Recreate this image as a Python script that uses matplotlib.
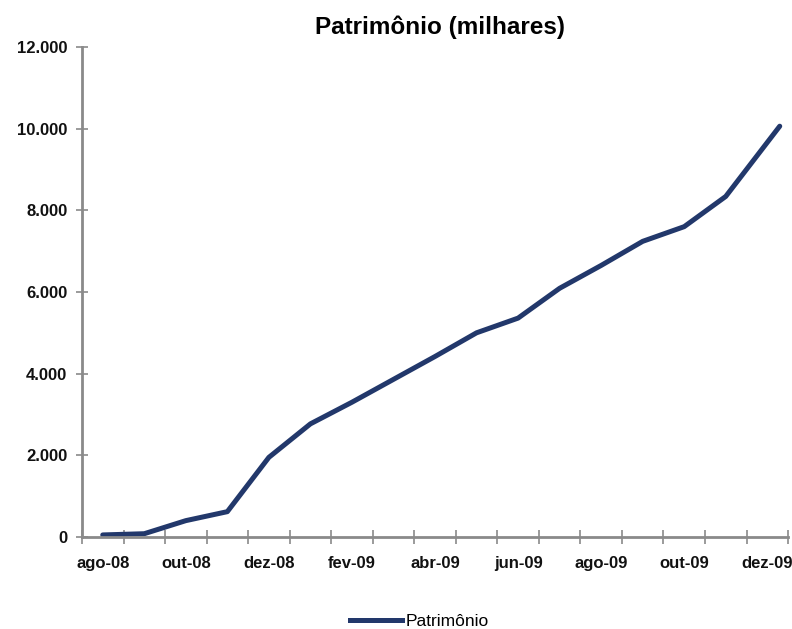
import matplotlib.pyplot as plt
from matplotlib.ticker import FixedLocator, FuncFormatter
from matplotlib.lines import Line2D

plt.rcParams['font.family'] = ['Liberation Sans', 'DejaVu Sans']

# meses (eixo de categorias); o ultimo ponto fica um pouco depois do meio de dez-09
meses = ["ago-08", "set-08", "out-08", "nov-08", "dez-08", "jan-09", "fev-09",
         "mar-09", "abr-09", "mai-09", "jun-09", "jul-09", "ago-09", "set-09",
         "out-09", "nov-09", "dez-09"]
posicao = [0, 1, 2, 3, 4, 5, 6, 7, 8, 9, 10, 11, 12, 13, 14, 15, 16.3]
patrimonio = [50, 80, 400, 620, 1950, 2770, 3300, 3860, 4420, 5000, 5360,
              6090, 6650, 7240, 7600, 8340, 10060]
rotulos_x = meses[::2]
ticks_y = [0, 2000, 4000, 6000, 8000, 10000, 12000]

cor = "#22386b"
cinza = "#8a8a8a"

fig = plt.figure(figsize=(7.92, 6.29), dpi=100)
ax = fig.add_axes([0.1035, 0.1463, 0.8915, 0.779])

ax.plot(posicao, patrimonio, color=cor, lw=3.6, solid_capstyle="round",
        solid_joinstyle="round")

ax.set_xlim(-0.5, len(meses) - 0.5)
ax.set_ylim(0, 12000)

# ticks nas fronteiras das categorias, rotulos a cada dois meses
ax.xaxis.set_major_locator(FixedLocator([i - 0.5 for i in range(len(meses) + 1)]))
ax.xaxis.set_major_formatter(FuncFormatter(lambda v, p: ""))
ax.xaxis.set_minor_locator(FixedLocator(list(range(0, len(meses), 2))))
ax.set_xticklabels(rotulos_x, minor=True)
ax.tick_params(axis="x", which="minor", length=0, pad=14)
ax.tick_params(axis="x", which="major", direction="inout", length=10, width=1.2,
               color=cinza)

ax.set_yticks(ticks_y)
ax.yaxis.set_major_formatter(FuncFormatter(lambda v, p: f"{int(v):,}".replace(",", ".")))
ax.tick_params(axis="y", direction="inout", length=9, width=1.2, color=cinza, pad=6)

for lab in ax.get_xticklabels(minor=True) + ax.get_yticklabels():
    lab.set_fontsize(12)
    lab.set_fontweight("bold")
    lab.set_color("#111111")

for s in ["top", "right"]:
    ax.spines[s].set_visible(False)
for s in ["left", "bottom"]:
    ax.spines[s].set_color(cinza)
    ax.spines[s].set_linewidth(2)

fig.text(0.555, 0.957, "Patrimônio (milhares)", ha="center", va="center",
         fontsize=17.5, fontweight="bold")

handle = Line2D([], [], color=cor, lw=3.6)
fig.legend([handle], ["Patrimônio"], loc="center", bbox_to_anchor=(0.53, 0.012),
           frameon=False, fontsize=12.5, handlelength=3.0, handletextpad=0.2)

fig.savefig("out.png", dpi=100)
